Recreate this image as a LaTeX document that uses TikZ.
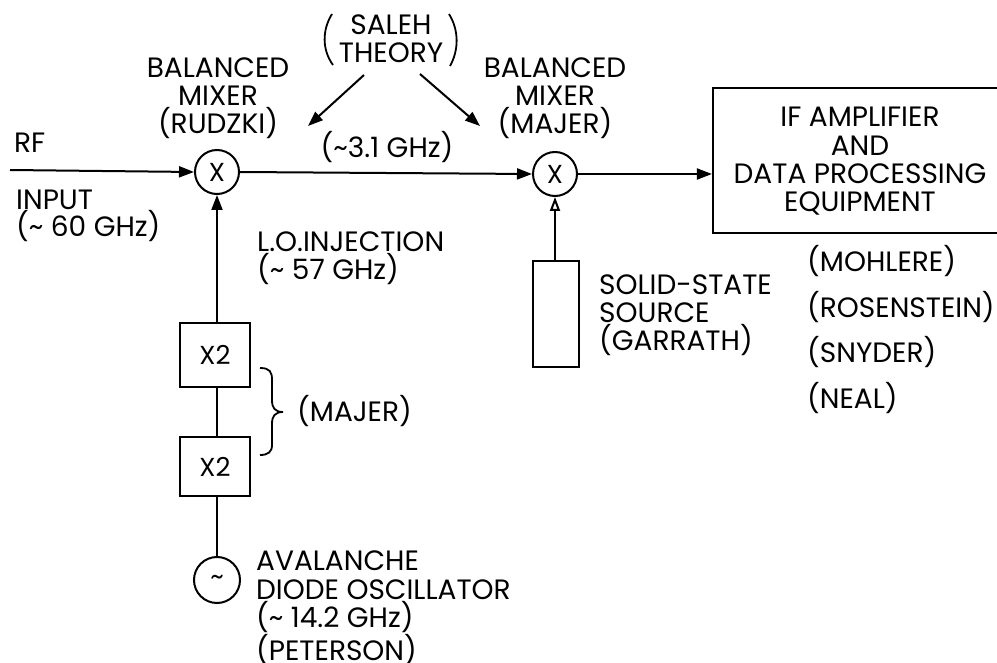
\documentclass[tikz,border=0pt]{standalone}
\usepackage{fontspec}
\setmainfont{Poppins}
\usetikzlibrary{arrows.meta}
\newcommand{\tl}{\textasciitilde}
\tikzset{
  lbl/.style={inner sep=0pt,anchor=base,font=\fontsize{28}{28.4}\selectfont,align=center},
  lbll/.style={inner sep=0pt,anchor=base west,font=\fontsize{28}{28.4}\selectfont,align=left},
  wire/.style={line width=2pt},
  sig/.style={wire,-{Triangle[length=15pt,width=11pt]}},
  sigopen/.style={wire,-{Triangle[open,length=14pt,width=10pt]}},
  blockbox/.style={draw,line width=2.2pt,inner sep=0pt},
  circ/.style={draw,circle,line width=2pt,inner sep=0pt,minimum size=44pt,font=\fontsize{26}{28}\selectfont},
}
\begin{document}
\begin{tikzpicture}[x=1pt,y=-1pt]
\useasboundingbox (0,0) rectangle (997,663);
% blocks
\node[circ] (m1) at (217,172) {X};
\node[circ] (m2) at (555,174) {X};
\node[circ,minimum size=46pt] (osc) at (217,580) {\tl};
\node[blockbox,minimum width=70pt,minimum height=64pt,font=\fontsize{26}{28}\selectfont] (a) at (215,355) {X2};
\node[blockbox,minimum width=70pt,minimum height=59pt,font=\fontsize{26}{28}\selectfont] (b) at (215,466.5) {X2};
\node[blockbox,minimum width=46pt,minimum height=106pt] (src) at (556,314) {};
\node[blockbox,minimum width=290pt,minimum height=145pt] (ifb) at (858,160.5) {};
\coordinate (rf) at (10,170);
% connectors
\draw[sig] (rf) -- (m1.west);
\draw[sig] (m1.east) -- (m2.west);
\draw[sig] (m2.east) -- (m2.east -| ifb.west);
\draw[sig] (a.north -| m1.south) -- (m1.south);
\draw[wire] (a.south -| m1.south) -- (b.north -| m1.south);
\draw[wire] (b.south -| m1.south) -- (osc.north);
\draw[sigopen] (src.north -| m2.south) -- (m2.south);
% saleh
\coordinate (s1) at (364,75);
\coordinate (s2) at (420,74);
\coordinate (t1) at (308,126);
\coordinate (t2) at (480,126);
\draw[sig] (s1) -- (t1);
\draw[sig] (s2) -- (t2);
\draw[line width=1.8pt] (332,14) .. controls (322,30) and (322,50) .. (333,65);
\draw[line width=1.8pt] (449,14) .. controls (459,30) and (459,50) .. (450,66);
% brace
\draw[line width=1.8pt] (260,368) .. controls (270,368) and (272,372) .. (272,380)
  -- (272,400) .. controls (272,408) and (275,412) .. (283,412)
  .. controls (275,412) and (272,416) .. (272,424) -- (272,445)
  .. controls (272,452) and (268,455) .. (260,455);
% labels
\node[lbl] (t0) at (391,63) {SALEH\\THEORY};
\node[lbl] (t3) at (218,134) {BALANCED\\MIXER\\(RUDZKI)};
\node[lbl] (t4) at (555,134) {BALANCED\\MIXER\\(MAJER)};
\node[lbl] (t5) at (387,158) {(\tl3.1 GHz)};
\node[lbll] (t6) at (14,153) {RF};
\node[lbll] (t7) at (16,237) {INPUT\\[-1pt](\tl\ 60 GHz)};
\node[lbll] (t8) at (257,280) {L.O.INJECTION\\(\tl\ 57 GHz)};
\node[lbl] (t9) at (860,212) {IF AMPLIFIER\\AND\\DATA PROCESSING\\EQUIPMENT};
\node[lbll] (t10) at (599,351) {SOLID-STATE\\SOURCE\\(GARRATH)};
\node[lbll] (t11) at (807,408) {(MOHLERE)\\[13pt](ROSENSTEIN)\\[13pt](SNYDER)\\[13pt](NEAL)};
\node[lbll] (t12) at (297,421) {(MAJER)};
\node[lbll] (t13) at (256,660) {AVALANCHE\\DIODE OSCILLATOR\\(\tl\ 14.2 GHz)\\(PETERSON)};
\end{tikzpicture}
\end{document}
